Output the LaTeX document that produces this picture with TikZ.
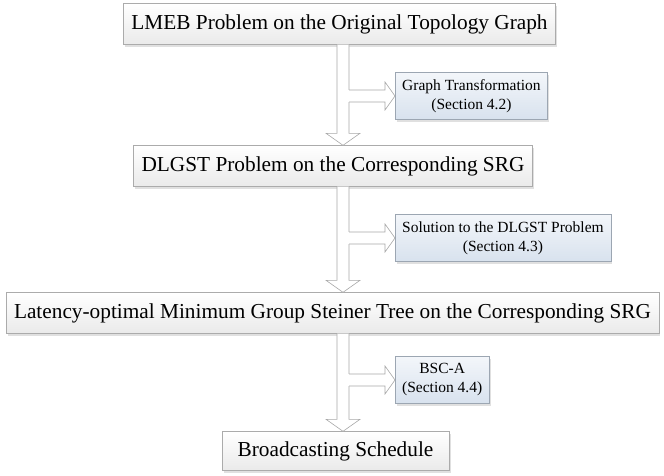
\documentclass[tikz,border=0pt]{standalone}
\usepackage{fontspec}
\setmainfont{Liberation Serif}
\usetikzlibrary{calc,shadows}

\definecolor{boxline}{HTML}{ABABAB}
\definecolor{boxlow}{HTML}{EAEAEA}
\definecolor{sidetop}{HTML}{F3F6FA}
\definecolor{sidelow}{HTML}{D8E2EE}
\definecolor{sideline}{HTML}{9CA6B2}
\definecolor{arrowline}{HTML}{A8A8A8}

\tikzset{
  stagebox/.style={draw=boxline, top color=white, bottom color=boxlow,
    drop shadow={shadow xshift=1.5pt, shadow yshift=-2pt, fill=black!35, opacity=.35},
    inner xsep=8pt, minimum height=41pt,
    font=\fontsize{21.3}{25}\selectfont},
  methodbox/.style={draw=sideline, top color=sidetop, bottom color=sidelow,
    drop shadow={shadow xshift=1.5pt, shadow yshift=-2pt, fill=black!35, opacity=.35},
    align=center, inner xsep=7pt, minimum height=47pt, anchor=west,
    font=\fontsize{15.5}{19}\selectfont},
  blockarrow/.style={draw=arrowline, fill=white, line width=0.6pt, line join=miter}
}

% vertical block arrow between two stage boxes
\newcommand{\stagearrow}[2]{%
  \draw[blockarrow] ($(#1.south -| axis)+(-6,0)$) -- ($(#2.north -| axis)+(-6,12)$)
    -- ++(-11,0) -- (#2.north -| axis) -- ++(17,12) -- ++(-11,0)
    -- ($(#1.south -| axis)+(6,0)$);}
% horizontal block arrow from the axis to a method box
\newcommand{\methodarrow}[1]{%
  \fill[white] ($(axis |- #1.west)+(5,6)$) rectangle ($(axis |- #1.west)+(7,-6)$);
  \draw[blockarrow] ($(axis |- #1.west)+(6,6)$) -- ($(#1.west)+(-10,6)$)
    -- ++(0,8) -- (#1.west) -- ++(-10,-14) -- ++(0,8)
    -- ($(axis |- #1.west)+(6,-6)$);}

\begin{document}
\begin{tikzpicture}[x=1pt,y=1pt]
\useasboundingbox (0,0) rectangle (664,-475);
\coordinate (axis) at (343,0);

\node[stagebox] (lmeb) at (339.5,-24) {LMEB Problem on the Original Topology Graph};
\node[methodbox] (transform) at (395,-96) {Graph Transformation\\(Section 4.2)};
\node[stagebox] (dlgst) at (333,-166) {DLGST Problem on the Corresponding SRG};
\node[methodbox] (solution) at (395,-238) {Solution to the DLGST Problem\\(Section 4.3)};
\node[stagebox] (tree) at (332.5,-313) {Latency-optimal Minimum Group Steiner Tree on the Corresponding SRG};
\node[methodbox] (bsca) at (395,-380) {BSC-A\\(Section 4.4)};
\node[stagebox, minimum width=227pt, minimum height=39pt] (schedule) at (335.5,-451) {Broadcasting Schedule};

\stagearrow{lmeb}{dlgst}
\stagearrow{dlgst}{tree}
\stagearrow{tree}{schedule}

\methodarrow{transform}
\methodarrow{solution}
\methodarrow{bsca}
\end{tikzpicture}
\end{document}
